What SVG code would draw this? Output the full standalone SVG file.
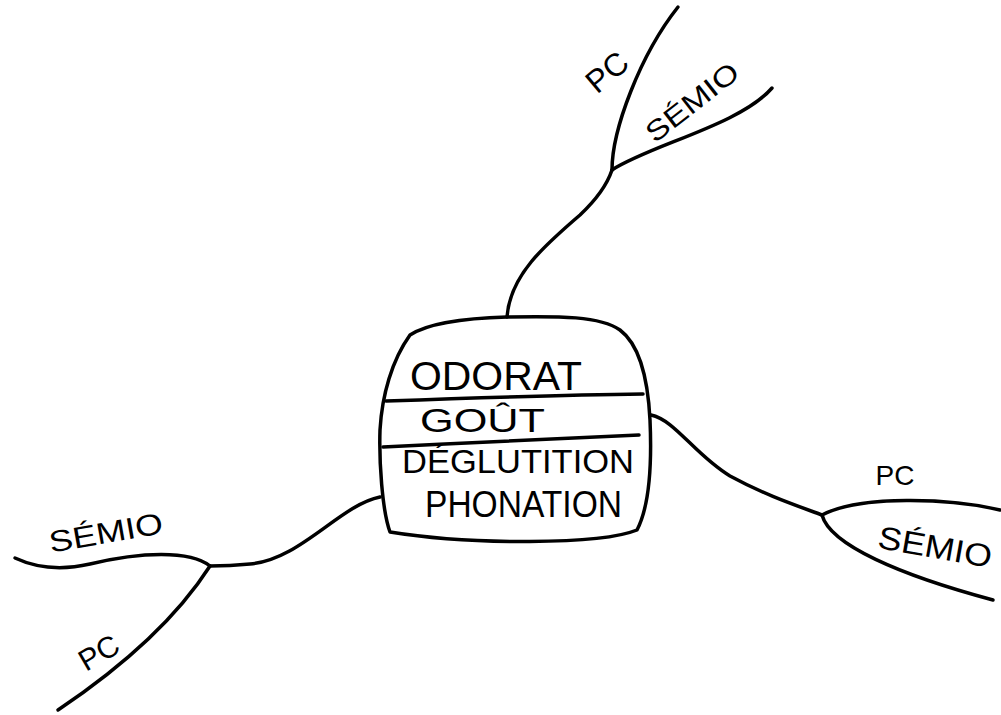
<svg xmlns="http://www.w3.org/2000/svg" width="1001" height="715" viewBox="0 0 1001 715">
<style>
.ln{fill:none;stroke:#000;stroke-width:3.5;stroke-linecap:round;stroke-linejoin:round}
.t{font-family:"Liberation Sans",Arial,sans-serif;fill:#000;text-anchor:middle}
.c{font-family:"Liberation Sans",Arial,sans-serif;fill:#000}
</style>
<rect width="1001" height="715" fill="#fff"/>
<g id="connectors">
<path class="ln" d="M507,317 C510,275 545,245 580,215 C598,198 607,185 612,170"/>
<path class="ln" d="M612,170 C612,130 640,55 678,7"/>
<path class="ln" d="M612,170 C650,145 740,125 772,88"/>
<path class="ln" d="M651,415 C675,420 695,455 730,476 C765,495 795,505 822,515"/>
<path class="ln" d="M822,515 C860,495 950,498 1000,510"/>
<path class="ln" d="M822,515 C830,545 900,575 993,600"/>
<path class="ln" d="M380,497 C340,505 300,560 250,564 C230,566 215,566 210,566"/>
<path class="ln" d="M210,566 C190,550 140,552 90,564 C55,572 30,565 15,558"/>
<path class="ln" d="M210,566 C185,605 140,655 58,710"/>
</g>
<g id="center">
<path class="ln" d="M410,335 C430,322 470,318 507,317 C560,316 600,316 620,330 C640,345 648,380 650,420 C652,465 650,505 637,530 C600,545 470,545 390,532 C382,510 379,460 380,430 C382,395 392,360 410,335 Z"/>
<path class="ln" d="M386,401 C470,398 560,395 643,394"/>
<path class="ln" d="M383,447 C470,443 560,438 639,435"/>
<text class="c" x="410" y="390" font-size="40" textLength="172" lengthAdjust="spacingAndGlyphs">ODORAT</text>
<text class="c" x="420" y="432" font-size="34" textLength="125" lengthAdjust="spacingAndGlyphs">GOÛT</text>
<text class="c" x="402" y="473" font-size="34" textLength="232" lengthAdjust="spacingAndGlyphs">DÉGLUTITION</text>
<text class="c" x="425" y="517" font-size="36" textLength="197" lengthAdjust="spacingAndGlyphs">PHONATION</text>
</g>
<g id="top-pc"><text class="t" font-size="32" transform="translate(607,72) rotate(-40)" y="11">PC</text></g>
<g id="top-semio"><text class="t" font-size="28" transform="translate(692,102) rotate(-38)" y="10" textLength="110" lengthAdjust="spacingAndGlyphs">SÉMIO</text></g>
<g id="right-pc"><text class="t" font-size="28" transform="translate(895,475)" y="10">PC</text></g>
<g id="right-semio"><text class="t" font-size="32" transform="translate(935,547) rotate(10)" y="11" textLength="115" lengthAdjust="spacingAndGlyphs">SÉMIO</text></g>
<g id="left-semio"><text class="t" font-size="30" transform="translate(106,533) rotate(-10)" y="10" textLength="115" lengthAdjust="spacingAndGlyphs">SÉMIO</text></g>
<g id="left-pc"><text class="t" font-size="30" transform="translate(99,653) rotate(-30)" y="10">PC</text></g>
</svg>
